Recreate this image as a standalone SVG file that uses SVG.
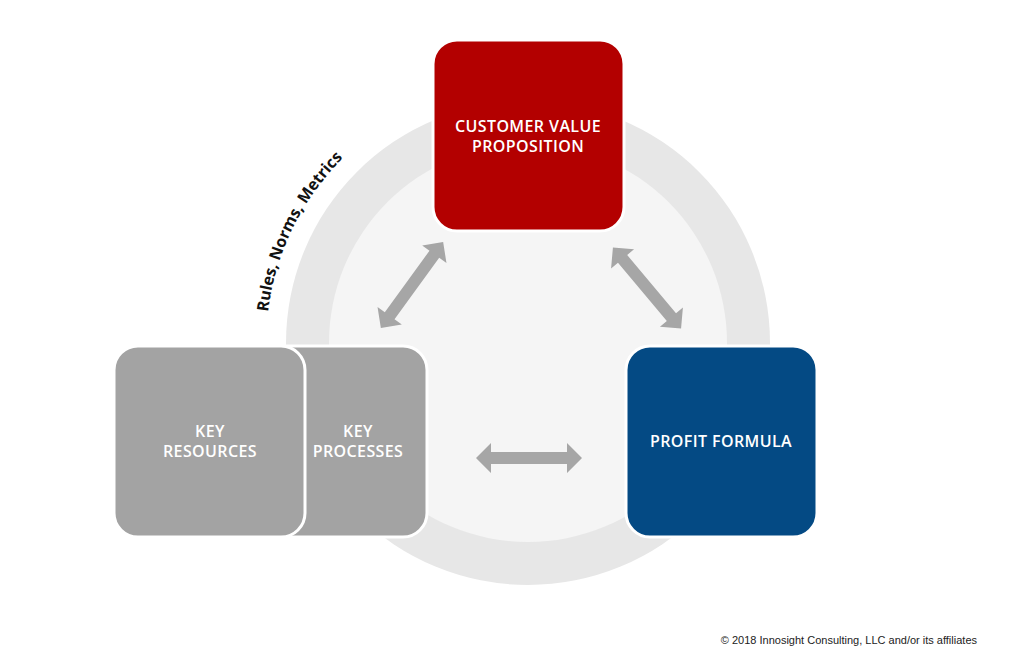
<svg xmlns="http://www.w3.org/2000/svg" width="1024" height="651" viewBox="0 0 1024 651">
<style>
.box{stroke:#ffffff;stroke-width:3}
.lbl{font-family:"Open Sans","Liberation Sans",sans-serif;font-size:16px;font-weight:600;fill:#ffffff;text-anchor:middle;letter-spacing:0.4px}
.arr{fill:#a6a6a6}
</style>
<defs>
<path id="arc" d="M 268,312 A 262,262 0 0 1 400,115"/>
<polygon id="dbl" points="-53,0 -38,-15 -38,-6 38,-6 38,-15 53,0 38,15 38,6 -38,6 -38,15"/>
</defs>
<rect width="1024" height="651" fill="#ffffff"/>
<circle cx="528" cy="343" r="242" fill="#e7e7e7"/>
<circle cx="528" cy="343" r="199" fill="#f5f5f5"/>
<text font-family="'Open Sans','Liberation Sans',sans-serif" font-weight="bold" font-size="16" fill="#111"><textPath href="#arc">Rules, Norms, Metrics</textPath></text>
<g id="connectors">
<use href="#dbl" class="arr" transform="translate(412,285) rotate(-54)"/>
<use href="#dbl" class="arr" transform="translate(647,288) rotate(50)"/>
<use href="#dbl" class="arr" transform="translate(529,458)"/>
</g>
<g id="cvp"><rect class="box" x="433" y="40" width="191" height="191" rx="24" fill="#b30000"/>
<text class="lbl" x="528" y="132">CUSTOMER VALUE</text><text class="lbl" x="528" y="152">PROPOSITION</text></g>
<g id="pf"><rect class="box" x="626" y="346" width="191" height="191" rx="24" fill="#044a84"/>
<text class="lbl" x="721" y="447">PROFIT FORMULA</text></g>
<g id="kp"><rect class="box" x="236" y="346" width="191" height="191" rx="24" fill="#a3a3a3"/>
<text class="lbl" x="358" y="437">KEY</text><text class="lbl" x="358" y="457">PROCESSES</text></g>
<g id="kr"><rect class="box" x="114" y="346" width="191" height="191" rx="24" fill="#a3a3a3"/>
<text class="lbl" x="210" y="437">KEY</text><text class="lbl" x="210" y="457">RESOURCES</text></g>
<text x="977" y="644" font-family="'Liberation Sans',Arial,sans-serif" font-size="11" fill="#222" text-anchor="end">© 2018 Innosight Consulting, LLC and/or its affiliates</text>
</svg>
